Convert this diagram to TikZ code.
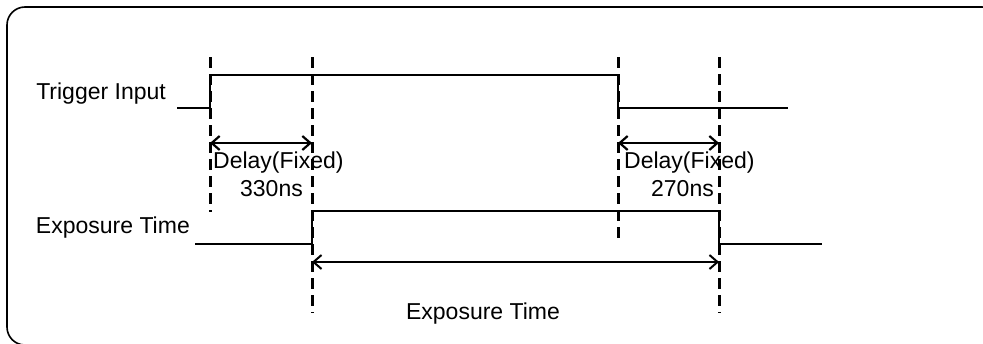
\documentclass[tikz,border=0pt]{standalone}
\usepackage{fontspec}
\setmainfont{Liberation Sans}
\usetikzlibrary{arrows.meta,positioning}

\tikzset{
	signal/.style = {line width=2pt},
	guide/.style = {line width=3pt, dash pattern=on 11pt off 6pt},
	span/.style = {line width=2.2pt, {Straight Barb[length=8pt,width=14pt]}-{Straight Barb[length=8pt,width=14pt]}},
	label/.style = {font=\fontsize{23}{27}\selectfont, inner sep=0pt}
}

\begin{document}
\begin{tikzpicture}[x=1pt,y=-1pt]
	\useasboundingbox (0,0) rectangle (983,343);
	\draw[line width=1.6pt, rounded corners=18pt] (7,7) rectangle (1000,345);

	% timing marks
	\coordinate (m1) at (210,57);
	\coordinate (m2) at (312,57);
	\coordinate (m3) at (618,57);
	\coordinate (m4) at (719,57);
	\coordinate (n1) at (210,212);
	\coordinate (n2) at (312,313);
	\coordinate (n3) at (618,244);
	\coordinate (n4) at (719,313);
	\draw[guide] (m1) -- (n1);
	\draw[guide] (m2) -- (n2);
	\draw[guide] (m3) -- (n3);
	\draw[guide] (m4) -- (n4);

	% trigger input
	\coordinate (t0) at (177,108);
	\coordinate (t1) at (210,108);
	\coordinate (t2) at (210,75);
	\coordinate (t3) at (618,75);
	\coordinate (t4) at (618,108);
	\coordinate (t5) at (788,108);
	\draw[signal] (t0) -- (t1) -- (t2) -- (t3) -- (t4) -- (t5);

	% exposure
	\coordinate (e0) at (195,244);
	\coordinate (e1) at (312,244);
	\coordinate (e2) at (312,211);
	\coordinate (e3) at (719,211);
	\coordinate (e4) at (719,244);
	\coordinate (e5) at (822,244);
	\draw[signal] (e0) -- (e1) -- (e2) -- (e3) -- (e4) -- (e5);

	% spans
	\coordinate (a1) at (210,143);
	\coordinate (a2) at (312,143);
	\coordinate (a3) at (618,143);
	\coordinate (a4) at (719,143);
	\coordinate (b1) at (312,262);
	\coordinate (b2) at (719,262);
	\draw[span] (a1) -- (a2);
	\draw[span] (a3) -- (a4);
	\draw[span, line width=2pt] (b1) -- (b2);

	% labels
	\node[label, anchor=base east] (trig) at (166,99) {Trigger Input};
	\node[label, anchor=base east] (expo) at (190,233) {Exposure Time};
	\node[label, anchor=base west] (dl1) at (213,168) {Delay(Fixed)};
	\node[label, anchor=base east] (dv1) at (303,196) {330ns};
	\node[label, anchor=base west] (dl2) at (624,168) {Delay(Fixed)};
	\node[label, anchor=base east] (dv2) at (714,196) {270ns};
	\node[label, anchor=base] (expw) at (483,319) {Exposure Time};
\end{tikzpicture}
\end{document}
